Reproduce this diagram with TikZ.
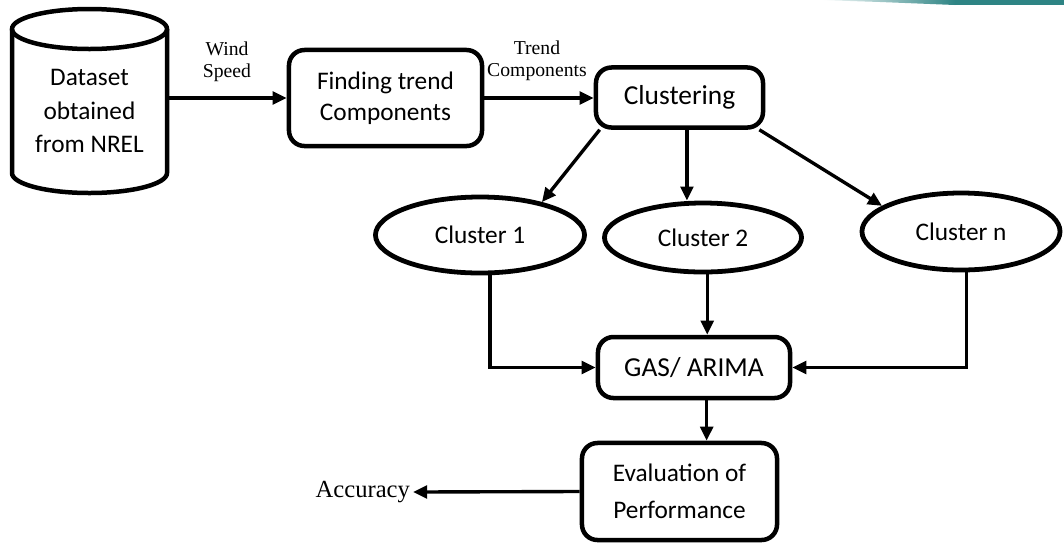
\documentclass[tikz,border=0pt]{standalone}
\usepackage{fontspec}
\setmainfont{Liberation Serif}
\newfontfamily\boxfont{Carlito}
\usetikzlibrary{arrows.meta, shapes.geometric}
\definecolor{barteal}{HTML}{2E8484}

\tikzset{
  box/.style={draw, line width=3.2pt, rounded corners=11pt, align=center,
    font=\boxfont\fontsize{18}{22}\selectfont},
  clus/.style={ellipse, draw, line width=3.4pt, inner sep=0pt,
    font=\boxfont\fontsize{18}{20}\selectfont},
  lbl/.style={align=center, font=\fontsize{14}{16}\selectfont},
  arr/.style={-{Triangle[length=10pt, width=9pt]}, line width=2.4pt}
}

\begin{document}
\begin{tikzpicture}[x=0.025cm, y=-0.025cm]
  \useasboundingbox (0,0) rectangle (1064,542);

  % Top decoration bar
  \shade[left color=white, right color=barteal] (820,0) -- (955,0) -- (955,5) -- (880,2) -- cycle;
  \fill[barteal] (955,0) rectangle (1064,5);

  % Data store
  \node[align=center, minimum width=3.875cm, minimum height=3.5cm,
    font=\boxfont\fontsize{18}{23.5}\selectfont] (data) at (89.5,111) {Dataset\\obtained\\from NREL};
  \draw[line width=3.2pt] (89.5,29) ellipse[x radius=77.5, y radius=20];
  \draw[line width=3.2pt] (12,29) -- (12,173) arc[start angle=180, end angle=0, x radius=77.5, y radius=20] -- (167,29);

  % Processing blocks
  \node[box, minimum width=4.825cm, minimum height=2.4cm] (trend) at (385.5,98) {Finding trend\\Components};
  \node[box, minimum width=4.175cm, minimum height=1.5cm, font=\boxfont\fontsize{19.5}{22}\selectfont] (clust) at (679.5,97.5) {Clustering};
  \node[clus, minimum width=5.225cm, minimum height=1.9cm] (c1) at (480,235) {Cluster 1};
  \node[clus, minimum width=4.925cm, minimum height=1.725cm] (c2) at (703,237.5) {Cluster 2};
  \node[clus, minimum width=4.95cm, minimum height=1.925cm] (cn) at (961,231.5) {Cluster n};
  \node[box, minimum width=4.8cm, minimum height=1.525cm, font=\boxfont\fontsize{19.5}{22}\selectfont] (gas) at (694,367.5) {GAS/ ARIMA};
  \node[box, minimum width=4.875cm, minimum height=2.425cm, font=\boxfont\fontsize{18}{26}\selectfont] (eval) at (679.5,491.5) {Evaluation of\\Performance};

  % Labels
  \node[lbl] (wind) at (227,62) {Wind\\Speed};
  \node[lbl] (tlbl) at (537,61) {Trend\\Components};
  \node[anchor=east, font=\fontsize{17.5}{20}\selectfont, inner sep=2pt] (acc) at (413,492) {Accuracy};

  % Connectors
  \draw[arr] (data.east |- trend.west) -- (trend.west);
  \draw[arr] (trend.east) -- (trend.east -| clust.west);
  \draw[arr] (clust.202) -- (c1.28);
  \draw[arr] ([xshift=5.3pt]clust.south) -- ([xshift=5.3pt]clust.south |- c2.north);
  \draw[arr] (clust.-22) -- (cn.162);
  \draw[arr] ([xshift=7pt]c1.south) |- (gas.west);
  \draw[arr] ([xshift=3pt]c2.south) -- ([xshift=3pt]c2.south |- gas.north);
  \draw[arr] ([xshift=4pt]cn.south) |- (gas.east);
  \draw[arr] ([xshift=9pt]gas.south) -- ([xshift=9pt]gas.south |- eval.north);
  \draw[arr] (eval.west) -- (acc.east);
\end{tikzpicture}
\end{document}
